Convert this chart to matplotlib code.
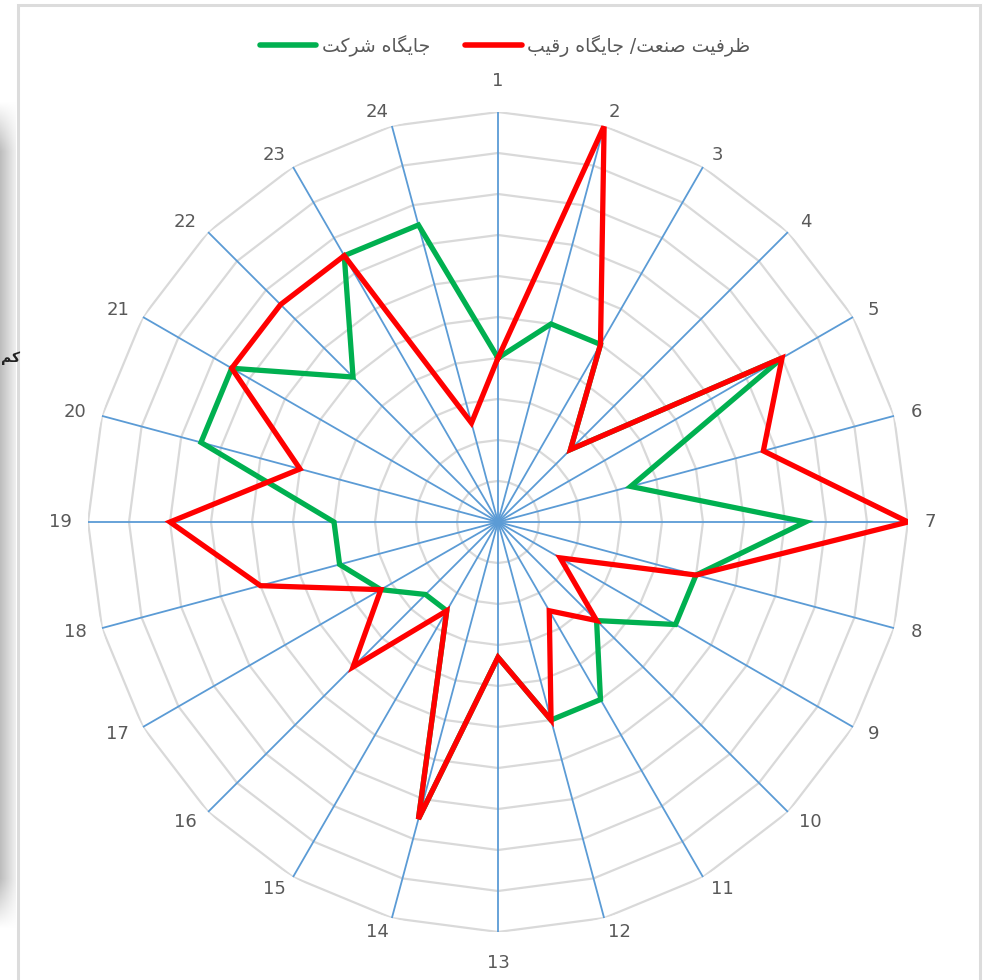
import numpy as np
import matplotlib
matplotlib.use("Agg")
import matplotlib.pyplot as plt
from matplotlib.lines import Line2D
from matplotlib.patches import Rectangle

# --- داده‌ها (24 محور، مقیاس 0 تا 10) ---
axis_labels = [str(i) for i in range(1, 25)]
company = [4, 5, 5, 2.5, 8, 3.35, 7.5, 5, 5, 3.4, 5, 5,
           3.3, 7.5, 2.5, 2.5, 3.3, 4, 4, 7.5, 7.5, 5, 7.5, 7.5]
rival = [4, 10, 5, 2.5, 8, 6.7, 10, 5, 1.75, 3.4, 2.5, 5,
         3.3, 7.5, 2.5, 5, 3.3, 6, 8, 5, 7.5, 7.5, 7.5, 2.5]
legend_company = "جایگاه شرکت"
legend_rival = "ظرفیت صنعت/ جایگاه رقیب"
r_max = 10
n_rings = 10

GREEN = "#00B050"
RED = "#FF0000"
SPOKE = "#5B9BD5"
RING = "#D9D9D9"
TXT = "#595959"

# --- شکل‌دهی ساده حروف فارسی (matplotlib خودش اتصال حروف را انجام نمی‌دهد) ---
FORMS = {  # isolated, final, initial, medial
    'ا': ('\uFE8D', '\uFE8E', None, None),
    'ر': ('\uFEAD', '\uFEAE', None, None),
    'ج': ('\uFE9D', '\uFE9E', '\uFE9F', '\uFEA0'),
    'ی': ('\uFBFC', '\uFBFD', '\uFBFE', '\uFBFF'),
    'گ': ('\uFB92', '\uFB93', '\uFB94', '\uFB95'),
    'ه': ('\uFEE9', '\uFEEA', '\uFEEB', '\uFEEC'),
    'ش': ('\uFEB5', '\uFEB6', '\uFEB7', '\uFEB8'),
    'ک': ('\uFB8E', '\uFB8F', '\uFB90', '\uFB91'),
    'ت': ('\uFE95', '\uFE96', '\uFE97', '\uFE98'),
    'ظ': ('\uFEC5', '\uFEC6', '\uFEC7', '\uFEC8'),
    'ف': ('\uFED1', '\uFED2', '\uFED3', '\uFED4'),
    'ص': ('\uFEB9', '\uFEBA', '\uFEBB', '\uFEBC'),
    'ن': ('\uFEE5', '\uFEE6', '\uFEE7', '\uFEE8'),
    'ع': ('\uFEC9', '\uFECA', '\uFECB', '\uFECC'),
    'ق': ('\uFED5', '\uFED6', '\uFED7', '\uFED8'),
    'ب': ('\uFE8F', '\uFE90', '\uFE91', '\uFE92'),
    'م': ('\uFEE1', '\uFEE2', '\uFEE3', '\uFEE4'),
}


def shape(text):
    out = []
    for i, ch in enumerate(text):
        if ch not in FORMS:
            out.append(ch)
            continue
        prev = text[i - 1] if i > 0 else ''
        nxt = text[i + 1] if i + 1 < len(text) else ''
        iso, fin, ini, med = FORMS[ch]
        join_prev = prev in FORMS and FORMS[prev][2] is not None
        join_next = nxt in FORMS and ini is not None
        if join_prev and join_next:
            out.append(med)
        elif join_prev:
            out.append(fin)
        elif join_next:
            out.append(ini)
        else:
            out.append(iso)
    return ''.join(reversed(out))


plt.rcParams['font.family'] = ['DejaVu Sans']

W, H = 989, 980
fig = plt.figure(figsize=(W / 100, H / 100), dpi=100)

# --- قاب و سایه سمت چپ (تصویر از سند) ---
fig.patches.append(Rectangle((18 / W, -0.05), (980 - 18) / W, 1.05 - 5 / H,
                             transform=fig.transFigure, fill=False,
                             edgecolor="#DCDCDC", linewidth=2.2))
grad_x = np.linspace(0.74, 0.94, 32)[None, :]
shade = np.ones((200, 1)) * grad_x
s = np.linspace(0, 1, 200)
fade = np.clip(s / 0.06, 0, 1) * np.clip((1 - s) / 0.06, 0, 1)
alpha = np.ones_like(shade) * fade[:, None]
rgba = np.dstack([shade, shade, shade, alpha])
sax = fig.add_axes([0, 1 - 930 / H, 16 / W, 830 / H])
sax.imshow(rgba, aspect='auto', interpolation='bilinear')
sax.axis('off')
fig.text(1 / W, 1 - 358 / H, shape('کم'), ha='left', va='center',
         fontsize=10, fontweight='bold', color="#222222")

# --- نمودار راداری ---
cx, cy, R = 498, 522, 410
ax = fig.add_axes([(cx - R) / W, (H - cy - R) / H, 2 * R / W, 2 * R / H],
                  projection='polar')
ax.set_theta_zero_location('N')
ax.set_theta_direction(-1)
ax.set_ylim(0, r_max)
ax.grid(False)
ax.spines['polar'].set_visible(False)
ax.set_xticks([])
ax.set_yticks([])
ax.patch.set_alpha(0)

n = len(axis_labels)
theta = np.arange(n) * 2 * np.pi / n
theta_closed = np.append(theta, theta[0])

# حلقه‌های چندضلعی
for k in range(1, n_rings + 1):
    rr = r_max * k / n_rings
    ax.plot(theta_closed, np.full(n + 1, rr), color=RING, lw=1.6, zorder=1)

# خطوط شعاعی
for t in theta:
    ax.plot([t, t], [0, r_max], color=SPOKE, lw=1.3, zorder=2)

# سری‌ها
ax.plot(theta_closed, company + company[:1], color=GREEN, lw=3.8,
        solid_joinstyle='miter', zorder=3)
ax.plot(theta_closed, rival + rival[:1], color=RED, lw=3.8,
        solid_joinstyle='miter', zorder=4)

# برچسب محورها (جابه‌جایی شبیه اکسل)
for t, lab in zip(theta, axis_labels):
    sx, sy = np.sin(t), np.cos(t)
    hw = 5 * len(lab) + 0.5
    if abs(sx) < 1e-6:
        ox, oy = 0, np.sign(sy) * 31.5
    else:
        ox = np.sign(sx) * (hw + 17 * abs(sx))
        oy = 0 if abs(sy) < 1e-6 else sy * 14
    ax.annotate(lab, xy=(t, r_max), xytext=(ox, oy), textcoords='offset pixels',
                ha='center', va='center', fontsize=13, color=TXT)

# --- راهنما ---
handles = [Line2D([], [], color=GREEN, lw=4, solid_capstyle='round'),
           Line2D([], [], color=RED, lw=4, solid_capstyle='round')]
fig.legend(handles, [shape(legend_company), shape(legend_rival)],
           loc='center', bbox_to_anchor=(505 / W, 1 - 46 / H), ncol=2,
           frameon=False, fontsize=13.5, labelcolor=TXT,
           handlelength=3.0, handletextpad=0.3, columnspacing=1.9)

fig.savefig("out.png", dpi=100)
